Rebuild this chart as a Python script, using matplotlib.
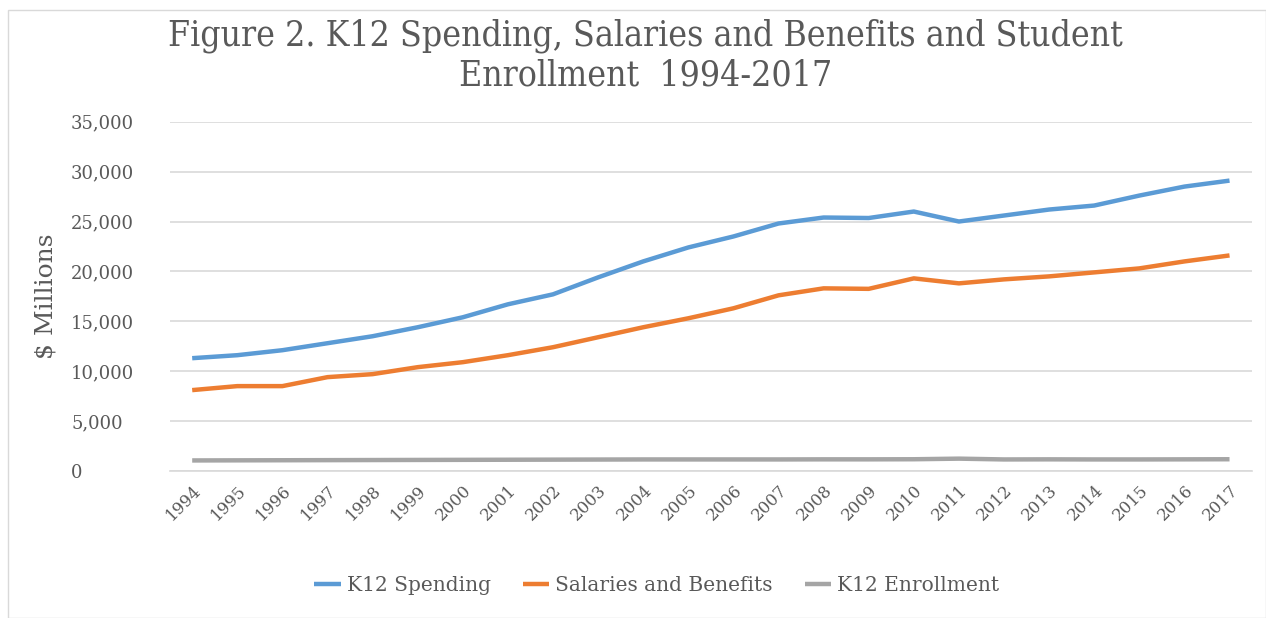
import matplotlib.pyplot as plt
from matplotlib.patches import Rectangle
from matplotlib.ticker import FuncFormatter

years = list(range(1994, 2018))
spending = [11300, 11600, 12100, 12800, 13500, 14400, 15400, 16700, 17700, 19400,
            21000, 22400, 23500, 24800, 25400, 25350, 26000, 25000, 25600, 26200,
            26600, 27600, 28500, 29100]
salaries = [8100, 8500, 8500, 9400, 9700, 10400, 10900, 11600, 12400, 13400,
            14400, 15300, 16300, 17600, 18300, 18250, 19300, 18800, 19200, 19500,
            19900, 20300, 21000, 21600]
enrollment = [1050, 1060, 1070, 1080, 1090, 1100, 1110, 1120, 1130, 1140,
              1150, 1150, 1150, 1150, 1160, 1160, 1170, 1230, 1150, 1160,
              1150, 1150, 1160, 1170]

plt.rcParams['font.family'] = ['DejaVu Serif']
txt = '#595959'

fig = plt.figure(figsize=(12.66, 6.18), dpi=100)
fig.patches.append(Rectangle((0.006, 0.0), 0.994, 0.984, transform=fig.transFigure,
                             fill=False, edgecolor='#D9D9D9', lw=1))
ax = fig.add_axes([0.134, 0.238, 0.855, 0.565])

ax.plot(years, spending, color='#5B9BD5', lw=3.2, label='K12 Spending', solid_capstyle='butt')
ax.plot(years, salaries, color='#ED7D31', lw=3.2, label='Salaries and Benefits', solid_capstyle='butt')
ax.plot(years, enrollment, color='#A5A5A5', lw=3.2, label='K12 Enrollment', solid_capstyle='butt')

ax.set_xlim(1993.5, 2017.5)
ax.set_ylim(0, 35000)
ax.set_yticks(range(0, 35001, 5000))
ax.yaxis.set_major_formatter(FuncFormatter(lambda v, p: f'{int(v):,}'))
ax.set_xticks(years)
ax.set_xticklabels([str(y) for y in years], rotation=45, ha='right', va='top',
                   rotation_mode='anchor')
ax.tick_params(axis='both', length=0, labelsize=12, colors=txt)
for lab in ax.get_yticklabels():
    lab.set_horizontalalignment('left')
    lab.set_fontsize(13)
ax.tick_params(axis='y', pad=71)
ax.tick_params(axis='x', pad=8)
ax.grid(axis='y', color='#D9D9D9', lw=1.2)
ax.set_axisbelow(True)
for s in ['top', 'right', 'left']:
    ax.spines[s].set_visible(False)
ax.spines['bottom'].set_color('#D9D9D9')
ax.spines['bottom'].set_linewidth(1.2)

ax.set_ylabel('$ Millions', fontsize=18, color=txt)
ax.yaxis.set_label_coords(-0.104, 0.5)

fig.suptitle('Figure 2. K12 Spending, Salaries and Benefits and Student\nEnrollment  1994-2017',
             fontsize=25.5, color=txt, y=0.97, x=0.51, linespacing=1.2,
             fontstretch='condensed')

ax.legend(loc='upper center', bbox_to_anchor=(0.45, -0.25), ncol=3, frameon=False,
          fontsize=14.5, labelcolor=txt, handlelength=1.3, handletextpad=0.3, columnspacing=1.6)

fig.savefig('out.png', dpi=100)
